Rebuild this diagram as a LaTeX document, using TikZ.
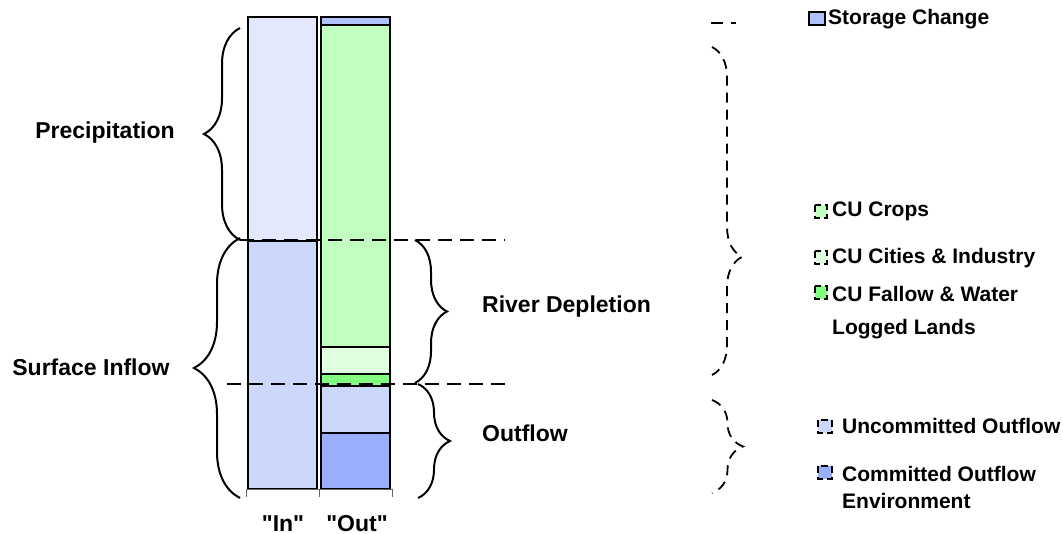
\documentclass[tikz,border=0pt]{standalone}
\usepackage{fontspec}
\setmainfont{Liberation Sans}
\usetikzlibrary{decorations.pathreplacing}

\definecolor{precip}{HTML}{E3E8FC}
\definecolor{inflow}{HTML}{CCD7FC}
\definecolor{storage}{HTML}{B0C2FC}
\definecolor{crops}{HTML}{C0FFC0}
\definecolor{cities}{HTML}{E0FFE0}
\definecolor{fallow}{HTML}{80FF80}
\definecolor{comm}{HTML}{99AFFC}

\begin{document}
\begin{tikzpicture}[x=1pt,y=-1pt,
  bar/.style={draw=black,line width=1.5pt},
  cut/.style={line width=2.5pt,dash pattern=on 14pt off 8pt},
  brc/.style={decorate,line width=2pt,decoration={brace,amplitude=#1}},
  dbrc/.style={decorate,line width=1.8pt,dash pattern=on 10pt off 7pt,decoration={brace,amplitude=#1}},
  lbl/.style={font=\fontsize{23}{27}\selectfont\bfseries,inner sep=0pt},
  leg/.style={font=\fontsize{21}{27}\selectfont\bfseries,inner sep=0pt,align=left},
  key/.style={line width=1.2pt,dash pattern=on 7pt off 4pt}]
\useasboundingbox (0,0) rectangle (1063,534);

% "In" bar
\draw[bar,fill=precip] (248,17) rectangle (317,241);
\draw[bar,fill=inflow] (248,241) rectangle (317,489);
% "Out" bar
\foreach \a/\b/\c in {17/25/storage,25/347/crops,347/374/cities,374/386/fallow,386/433/inflow,433/489/comm}
  \draw[bar,fill=\c] (321,\a) rectangle (390,\b);

\draw[gray!80!black,line width=1pt] (246,489) -- (392,489);
\foreach \x in {246,319,392}
  \draw[gray!80!black,line width=1pt] (\x,489) -- (\x,497);

\draw[cut] (240,240) -- (505,240);
\draw[cut] (227,384) -- (507,384);

% braces
\draw[brc=36] (240,240) -- (240,28);
\draw[brc=46] (240,498) -- (240,238);
\draw[brc=32] (415,240) -- (415,383);
\draw[brc=32] (418,384) -- (418,498);
\draw[dbrc=30,decoration={aspect=0.64}] (712,47) -- (712,375);
\draw[dbrc=31] (712,400) -- (712,493);
\draw[line width=1.8pt,dash pattern=on 12pt off 8pt] (711,23) -- (736,23);

\node[lbl,anchor=base] (precip) at (105,139) {Precipitation};
\node[lbl,anchor=base] (inflow) at (91,376) {Surface Inflow};
\node[lbl,anchor=base west] (depl) at (482,313) {River Depletion};
\node[lbl,anchor=base west] (outfl) at (482,442) {Outflow};
\node[lbl,anchor=base] (in) at (283,531) {\textquotedbl In\textquotedbl};
\node[lbl,anchor=base] (out) at (357,531) {\textquotedbl Out\textquotedbl};

% legend
\draw[line width=1.2pt,fill=storage] (809,12) rectangle (825,25);
\node[leg,anchor=base west] (lstor) at (828,25) {Storage Change};
\draw[key,fill=crops] (815,205) rectangle (827,218);
\node[leg,anchor=base west] (lcrops) at (832,217) {CU Crops};
\draw[key,fill=cities] (815,251) rectangle (827,264);
\node[leg,anchor=base west] (lcities) at (832,264) {CU Cities \& Industry};
\draw[key,fill=fallow] (815,286) rectangle (827,299);
\node[leg,font=\fontsize{21}{33}\selectfont\bfseries,anchor=north west] (lfallow) at (832,286) {CU Fallow \& Water\\ Logged Lands};
\draw[key,fill=inflow] (818,420) rectangle (832,433);
\node[leg,anchor=base west] (lunc) at (842,433) {Uncommitted Outflow};
\draw[key,fill=comm] (818,466) rectangle (832,479);
\node[leg,anchor=north west] (lcomm) at (842,466) {Committed Outflow\\ Environment};
\end{tikzpicture}
\end{document}
